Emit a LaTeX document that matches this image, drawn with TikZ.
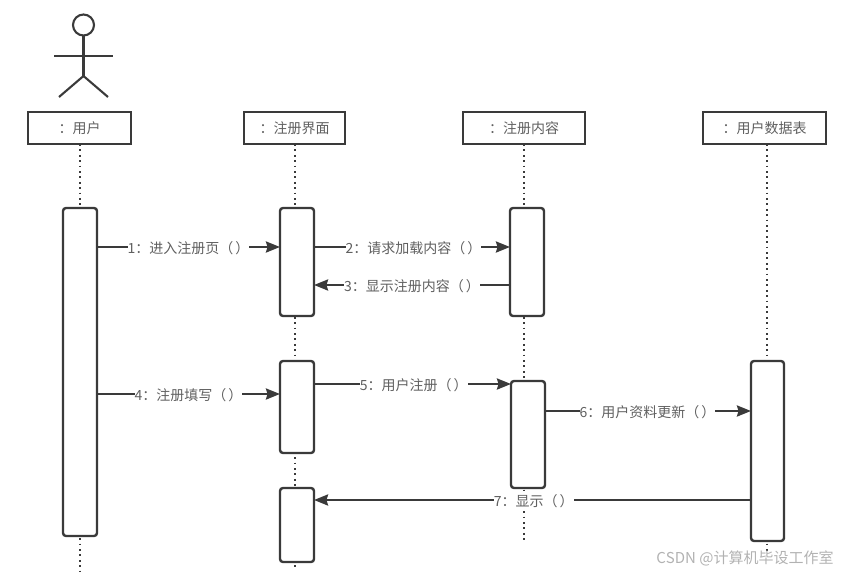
\documentclass[tikz,border=0pt]{standalone}
\usepackage{fontspec}
\setmainfont[Kerning=Off]{Noto Sans CJK SC}
\usetikzlibrary{arrows.meta}
\definecolor{ink}{HTML}{3A3A3A}
\definecolor{txt}{HTML}{606060}
\tikzset{
  x=1pt,y=-1pt,
  headbox/.style={draw=ink,line width=2.4pt,fill=white,minimum height=32pt,inner sep=0pt,outer sep=0pt,text=txt,font=\fontsize{14}{16}\selectfont},
  active/.style={draw=ink,line width=2.4pt,fill=white,rounded corners=3pt,minimum width=34pt,inner sep=0pt,outer sep=0pt},
  life/.style={ink,line width=1.8pt,dash pattern=on 1.8pt off 3.6pt},
  msg/.style={ink,line width=2.4pt},
  figure/.style={ink,line width=2.1pt},
  tipped/.style={msg,-{Stealth[length=14pt,width=11pt,inset=1.5pt]}},
  lab/.style={fill=white,text=txt,inner sep=0pt,minimum height=15pt,yshift=-1pt,font=\fontsize{14}{16}\selectfont},
}
\begin{document}
\begin{tikzpicture}
\useasboundingbox (0,0) rectangle (846,573);
\node[headbox,minimum width=103pt] (ha) at (79.5,128) {：用户};
\node[headbox,minimum width=101pt] (hb) at (294.5,128) {：注册界面};
\node[headbox,minimum width=122pt] (hc) at (524,128) {：注册内容};
\node[headbox,minimum width=123pt] (hd) at (764.5,128) {：用户数据表};
\coordinate (aend) at (80,572);
\coordinate (bend) at (295,570);
\coordinate (cend) at (524,540);
\coordinate (dend) at (767,552);
\draw[life] (ha.south -| aend) -- (aend);
\draw[life] (hb.south -| bend) -- (bend);
\draw[life] (hc.south -| cend) -- (cend);
\draw[life] (hd.south -| dend) -- (dend);
\node[active,minimum height=328pt] (a1) at (80,372) {};
\node[active,minimum height=108pt] (b1) at (297,262) {};
\node[active,minimum height=108pt] (c1) at (527,262) {};
\node[active,minimum height=92pt] (b2) at (297,407) {};
\node[active,minimum height=107pt] (c2) at (528,434.5) {};
\node[active,minimum height=180pt,minimum width=33pt] (d1) at (767.5,451) {};
\node[active,minimum height=74pt] (b3) at (297,525) {};
\node[figure,draw=ink,circle,minimum size=21pt,inner sep=0pt,outer sep=0pt] (head) at (83.5,25) {};
\coordinate (hip) at (83.5,76);
\coordinate (arml) at (54,56);
\coordinate (armr) at (113,56);
\coordinate (legl) at (59,97);
\coordinate (legr) at (108,97);
\draw[figure] (head.south) -- (hip);
\draw[figure] (arml) -- (armr);
\draw[figure] (legl) -- (hip) -- (legr);
\draw[tipped] (a1.east |- 0,247) -- node[lab,pos=.5] {1：进入注册页（\kern2pt）} (b1.west |- 0,247);
\draw[tipped] (b1.east |- 0,247) -- node[lab,pos=.508] {2：请求加载内容（\kern2pt）} (c1.west |- 0,247);
\draw[tipped] (c1.west |- 0,285) -- node[lab,pos=.5] {3：显示注册内容（\kern2pt）} (b1.east |- 0,285);
\draw[tipped] (a1.east |- 0,394) -- node[lab,pos=.5] {4：注册填写（\kern2pt）} (b2.west |- 0,394);
\draw[tipped] (b2.east |- 0,384) -- node[lab,pos=.506] {5：用户注册（\kern2pt）} (c2.west |- 0,384);
\draw[tipped] (c2.east |- 0,411) -- node[lab,pos=.498] {6：用户资料更新（\kern2pt）} (d1.west |- 0,411);
\draw[tipped] (d1.west |- 0,500) -- node[lab,pos=.497] {7：显示（\kern2pt）} (b3.east |- 0,500);
\node[text=black!30,inner sep=0pt,font=\fontsize{15}{17}\selectfont] (mark) at (745,558) {CSDN @计算机毕设工作室};
\end{tikzpicture}
\end{document}
